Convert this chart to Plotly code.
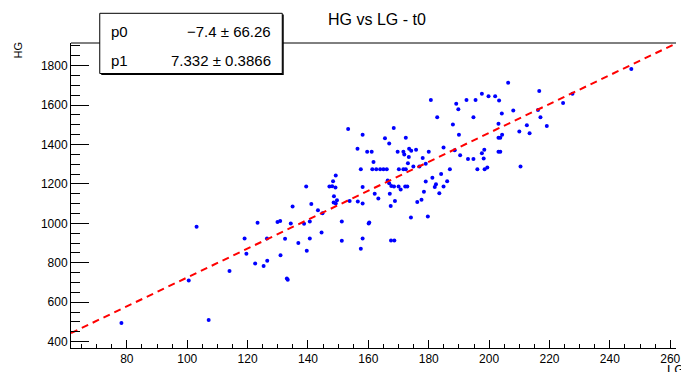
import plotly.graph_objects as go

# ---- data ----
lg = [78.2, 103.1, 107.1, 100.5, 114.0, 119.0, 119.6, 123.3, 122.5, 125.3,
      126.4, 126.5, 129.9, 139.4, 134.9, 141.1, 143.3, 144.8, 140.6, 138.7,
      134.3, 130.8, 132.4, 136.8, 139.6, 140.6, 144.5, 130.9, 133.0, 133.3,
      151.2, 151.2, 158.1, 157.5, 160.1, 160.3, 167.4, 167.5, 168.6, 174.1,
      179.7, 153.3, 158.1, 168.4, 165.5, 166.9, 172.4, 156.4, 159.6, 161.1,
      169.7, 171.6, 171.9, 173.5, 174.2, 175.8, 173.4, 178.0, 161.7, 173.1,
      174.9, 176.9, 179.0, 157.5, 161.3, 162.6, 163.9, 165.0, 166.1, 170.1,
      171.6, 172.4, 149.2, 148.3, 147.1, 148.0, 149.1, 158.1, 166.4, 166.9,
      167.6, 168.5, 170.0, 170.7, 172.2, 172.9, 148.6, 149.6, 148.5, 149.2,
      153.8, 156.5, 158.1, 162.1, 163.3, 167.1, 168.8, 178.4, 176.2, 177.6,
      179.0, 206.3, 197.6, 199.8, 202.0, 203.3, 180.7, 192.5, 195.5, 189.1,
      189.8, 208.0, 204.2, 182.8, 194.8, 188.0, 203.1, 210.0, 204.3, 190.0,
      203.1, 203.7, 184.9, 180.0, 188.6, 198.4, 197.6, 203.1, 203.7, 190.4,
      193.0, 194.8, 198.2, 187.0, 196.1, 198.5, 199.4, 210.4, 184.1, 181.2,
      186.1, 182.4, 182.0, 184.9, 183.5, 216.6, 224.5, 227.6, 247.1, 216.2,
      217.0, 212.5, 219.1, 213.4]
hg = [495, 983, 510, 711, 758, 923, 846, 1003, 797, 784,
      923, 810, 1007, 1187, 1086, 1099, 1067, 1052, 1010, 998,
      999, 1012, 922, 900, 861, 923, 954, 839, 721, 714,
      1010, 912, 923, 871, 999, 1004, 1088, 913, 913, 1030,
      1035, 1479, 1450, 1484, 1432, 1405, 1434, 1378, 1363, 1363,
      1363, 1363, 1349, 1378, 1368, 1373, 1337, 1332, 1311, 1305,
      1288, 1288, 1303, 1275, 1275, 1275, 1275, 1275, 1275, 1275,
      1275, 1275, 1243, 1214, 1187, 1189, 1182, 1185, 1217, 1204,
      1190, 1187, 1187, 1172, 1187, 1187, 1138, 1118, 1106, 1101,
      1114, 1111, 1101, 1151, 1126, 1150, 1114, 1160, 1109, 1120,
      1212, 1714, 1657, 1645, 1645, 1623, 1626, 1626, 1626, 1607,
      1579, 1572, 1557, 1539, 1539, 1501, 1506, 1466, 1450, 1450,
      1434, 1434, 1385, 1363, 1371, 1374, 1356, 1363, 1363, 1346,
      1326, 1326, 1329, 1275, 1275, 1275, 1283, 1288, 1251, 1232,
      1214, 1199, 1185, 1187, 1153, 1672, 1611, 1658, 1783, 1575,
      1539, 1498, 1494, 1457]

fit_names = ["p0", "p1"]
fit_values = [-7.4, 7.332]
fit_labels = ["\u22127.4 \u00b1 66.26", "7.332 \u00b1 0.3866"]

x_range = [61.5, 261.9]
y_range = [368, 1915]

FONT = "Liberation Sans, Arial, Helvetica, sans-serif"

fig = go.Figure()

fig.add_trace(go.Scatter(
    x=lg, y=hg, mode="markers",
    marker=dict(color="#0000ff", size=4, line=dict(width=0)),
    showlegend=False, hoverinfo="skip", cliponaxis=False))

fx = x_range
fy = [fit_values[0] + fit_values[1] * v for v in fx]
fig.add_trace(go.Scatter(
    x=fx, y=fy, mode="lines",
    line=dict(color="#ff0000", width=2, dash="7px,5px"),
    showlegend=False, hoverinfo="skip"))

W, H = 681, 372
L, R, T, B = 71, 0, 43, 24
pw, ph = W - L - R, H - T - B

def px(xp):
    return (xp - L) / pw

def py(yp):
    return (H - B - yp) / ph

fig.update_layout(
    width=W, height=H,
    margin=dict(l=L, r=R, t=T, b=B, pad=0),
    paper_bgcolor="white", plot_bgcolor="white",
    font=dict(family=FONT, color="black", size=12),
    xaxis=dict(range=x_range, showgrid=False, zeroline=False,
               showline=True, linecolor="black", linewidth=1,
               ticks="inside", ticklen=8, tickcolor="black", tickwidth=1,
               tick0=80, dtick=20, tickfont=dict(size=12),
               ticklabeloverflow="allow",
               minor=dict(ticks="inside", ticklen=4, dtick=5, tick0=80,
                          tickcolor="black", showgrid=False),
               mirror=False),
    yaxis=dict(range=y_range, showgrid=False, zeroline=False,
               showline=True, linecolor="black", linewidth=1,
               ticks="inside", ticklen=18, tickcolor="black", tickwidth=1,
               tick0=400, dtick=200, tickfont=dict(size=12),
               ticklabeloverflow="allow",
               minor=dict(ticks="inside", ticklen=9, dtick=50, tick0=400,
                          tickcolor="black", showgrid=False),
               mirror=False),
)

shapes = [
    dict(type="line", xref="paper", yref="paper", x0=0, x1=1, y0=1, y1=1,
         line=dict(color="black", width=1)),
    dict(type="rect", xref="paper", yref="paper",
         x0=px(101.5), x1=px(285.5), y0=py(75), y1=py(14.5),
         fillcolor="black", line=dict(width=0)),
    dict(type="rect", xref="paper", yref="paper",
         x0=px(100), x1=px(284), y0=py(73.5), y1=py(13.3),
         fillcolor="white", line=dict(color="black", width=1)),
]
fig.update_layout(shapes=shapes)

ann = []
ann.append(dict(text="HG vs LG - t0", x=px(380), y=py(19.5), xref="paper", yref="paper",
                xanchor="center", yanchor="middle", showarrow=False,
                font=dict(size=16, family=FONT)))
ann.append(dict(text="HG", x=px(18), y=py(50), xref="paper", yref="paper",
                xanchor="center", yanchor="middle", textangle=-90, showarrow=False,
                font=dict(size=11, family=FONT)))
ann.append(dict(text="LG", x=px(670), y=py(369), xref="paper", yref="paper",
                xanchor="left", yanchor="middle", showarrow=False,
                font=dict(size=13, family=FONT)))
row_y = [31.7, 60.7]
for name, lab, ry in zip(fit_names, fit_labels, row_y):
    ann.append(dict(text=name, x=px(109), y=py(ry), xref="paper", yref="paper",
                    xanchor="left", yanchor="middle", showarrow=False,
                    font=dict(size=15, family=FONT)))
    ann.append(dict(text=lab, x=px(275), y=py(ry), xref="paper", yref="paper",
                    xanchor="right", yanchor="middle", showarrow=False,
                    font=dict(size=15, family=FONT)))
fig.update_layout(annotations=ann)

fig.write_html("out.html")
